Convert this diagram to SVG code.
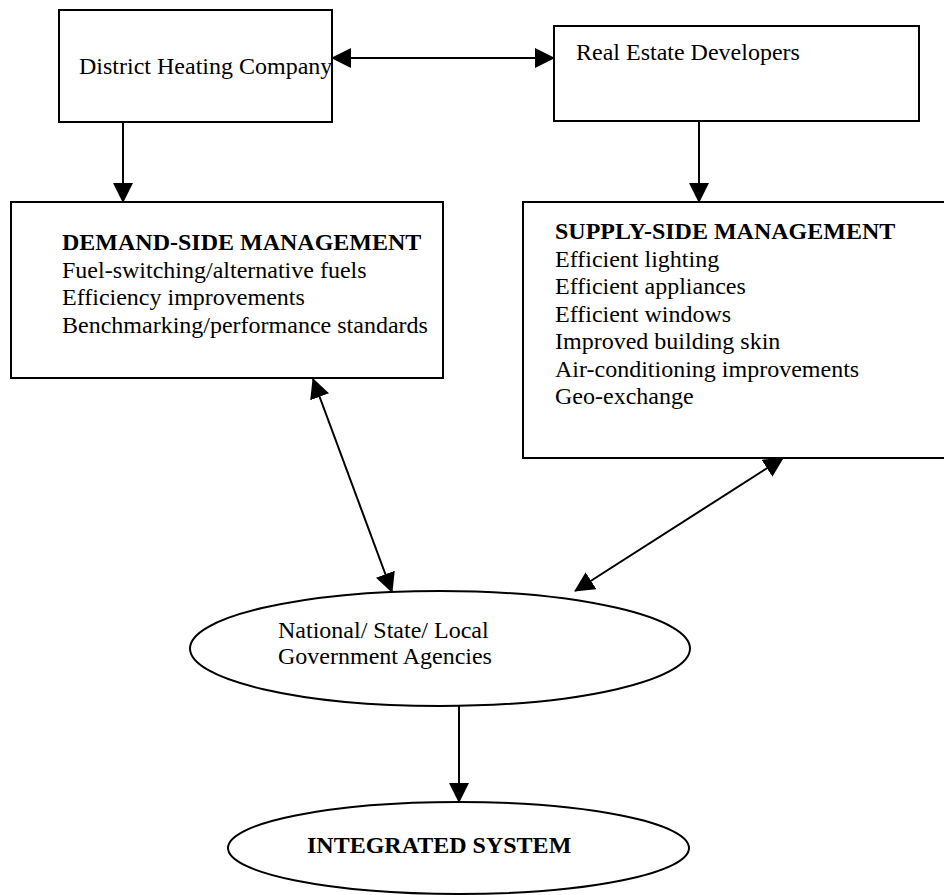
<svg xmlns="http://www.w3.org/2000/svg" width="944" height="895" viewBox="0 0 944 895">
<style>
.box{fill:#fff;stroke:#000;stroke-width:2}
.ell{fill:#fff;stroke:#000;stroke-width:2}
.t{font-family:"Liberation Serif","Times New Roman",serif;font-size:24px;fill:#000}
.b{font-weight:bold}
.c{stroke:#000;stroke-width:2;fill:none}
</style>
<defs>
<marker id="ah" markerUnits="userSpaceOnUse" markerWidth="20" markerHeight="20" refX="19" refY="10" orient="auto-start-reverse" viewBox="0 0 20 20">
<path d="M0,0 L20,10 L0,20 z" fill="#000"/>
</marker>
</defs>
<rect width="944" height="895" fill="#fff"/>
<g id="district-heating">
<rect class="box" x="59" y="10" width="273" height="112"/>
<text class="t" x="79" y="74">District Heating Company</text>
</g>
<g id="real-estate">
<rect class="box" x="554" y="26" width="365" height="95"/>
<text class="t" x="576" y="60">Real Estate Developers</text>
</g>
<g id="demand-side">
<rect class="box" x="11" y="202" width="432" height="176"/>
<text class="t" x="62"><tspan class="b" x="62" y="250">DEMAND-SIDE MANAGEMENT</tspan><tspan x="62" y="277.5">Fuel-switching/alternative fuels</tspan><tspan x="62" y="305">Efficiency improvements</tspan><tspan x="62" y="332.5">Benchmarking/performance standards</tspan></text>
</g>
<g id="supply-side">
<rect class="box" x="523" y="202" width="430" height="256"/>
<text class="t" x="555"><tspan class="b" x="555" y="239">SUPPLY-SIDE MANAGEMENT</tspan><tspan x="555" y="266.5">Efficient lighting</tspan><tspan x="555" y="294">Efficient appliances</tspan><tspan x="555" y="321.5">Efficient windows</tspan><tspan x="555" y="349">Improved building skin</tspan><tspan x="555" y="376.5">Air-conditioning improvements</tspan><tspan x="555" y="404">Geo-exchange</tspan></text>
</g>
<g id="government">
<ellipse class="ell" cx="440" cy="648.5" rx="250" ry="57.5"/>
<text class="t" x="278"><tspan x="278" y="638">National/ State/ Local</tspan><tspan x="278" y="664">Government Agencies</tspan></text>
</g>
<g id="integrated">
<ellipse class="ell" cx="458.5" cy="848" rx="230.5" ry="46"/>
<text class="t b" x="307" y="853">INTEGRATED SYSTEM</text>
</g>
<g id="connectors">
<line class="c" x1="332" y1="58" x2="554" y2="58" marker-start="url(#ah)" marker-end="url(#ah)"/>
<line class="c" x1="123" y1="122" x2="123" y2="202" marker-end="url(#ah)"/>
<line class="c" x1="699" y1="121" x2="699" y2="202" marker-end="url(#ah)"/>
<line class="c" x1="313" y1="379" x2="392" y2="592" marker-start="url(#ah)" marker-end="url(#ah)"/>
<line class="c" x1="783" y1="458" x2="575" y2="591" marker-start="url(#ah)" marker-end="url(#ah)"/>
<line class="c" x1="459" y1="706" x2="459" y2="802" marker-end="url(#ah)"/>
</g>
</svg>
